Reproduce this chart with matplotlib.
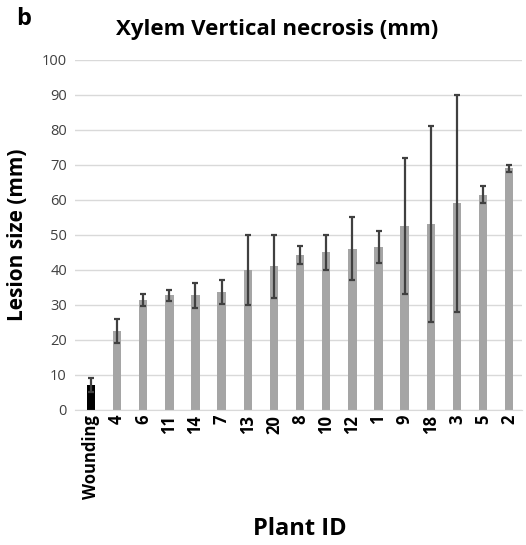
import matplotlib
matplotlib.use("Agg")
import matplotlib.pyplot as plt
import numpy as np

plt.rcParams['font.family'] = ['Open Sans', 'DejaVu Sans']

# data
plant_ids = ["Wounding", "4", "6", "11", "14", "7", "13", "20", "8", "10",
             "12", "1", "9", "18", "3", "5", "2"]
lesion = [7, 22.5, 31.5, 32.7, 32.7, 33.7, 40, 41, 44.3, 45,
          46, 46.5, 52.5, 53, 59, 61.5, 69]
err = [2, 3.5, 1.7, 1.5, 3.5, 3.5, 10, 9, 2.5, 5,
       9, 4.5, 19.5, 28, 31, 2.5, 1]
bar_colors = ["black"] + ["#a5a5a5"] * (len(plant_ids) - 1)

fig = plt.figure(figsize=(5.26, 5.45), dpi=100)
ax = fig.add_axes([0.143, 0.248, 0.85, 0.642])

x = np.arange(len(plant_ids))
ax.bar(x, lesion, width=0.32, color=bar_colors, zorder=2)
ax.errorbar(x, lesion, yerr=err, fmt="none", ecolor="#404040",
            elinewidth=1.6, capsize=2.5, capthick=1.6, zorder=3)

ax.set_ylim(0, 100)
ax.set_xlim(-0.6, len(plant_ids) - 0.5)
ax.set_yticks(range(0, 101, 10))
ax.yaxis.grid(True, color="#d9d9d9", linewidth=1)
ax.set_axisbelow(True)
for s in ["top", "right", "left"]:
    ax.spines[s].set_visible(False)
ax.spines["bottom"].set_color("#d9d9d9")
ax.tick_params(axis="both", length=0)
ax.tick_params(axis="y", labelsize=10.5, colors="#404040", pad=6)
ax.set_xticks(x)
ax.set_xticklabels(plant_ids, rotation=90, fontsize=12, fontweight="bold")

ax.set_ylabel("Lesion size (mm)", fontsize=15, fontweight="bold", labelpad=10)
fig.text(0.57, 0.03, "Plant ID", ha="center", va="center",
         fontsize=17, fontweight="bold")
fig.text(0.527, 0.945, "Xylem Vertical necrosis (mm)", ha="center", va="center",
         fontsize=16, fontweight="bold")
fig.text(0.03, 0.965, "b", ha="left", va="center", fontsize=17, fontweight="bold")

fig.savefig("out.png", dpi=100)
